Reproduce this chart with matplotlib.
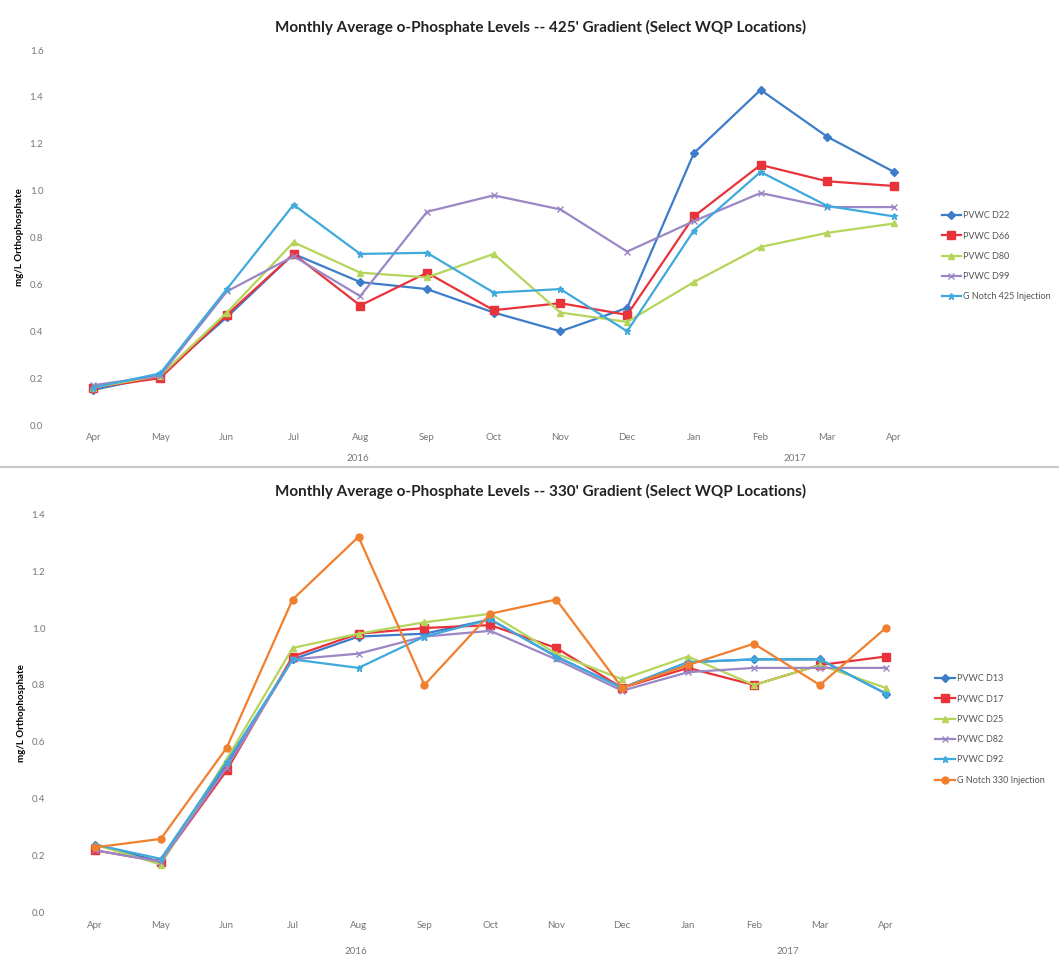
import matplotlib.pyplot as plt
from matplotlib.lines import Line2D

plt.rcParams['font.family'] = ['Lato', 'DejaVu Sans']

months = ["Apr", "May", "Jun", "Jul", "Aug", "Sep", "Oct", "Nov", "Dec", "Jan", "Feb", "Mar", "Apr"]

# 425' gradient
d22 = [0.15, 0.21, 0.46, 0.73, 0.61, 0.58, 0.48, 0.40, 0.50, 1.16, 1.43, 1.23, 1.08]
d66 = [0.16, 0.20, 0.47, 0.73, 0.51, 0.65, 0.49, 0.52, 0.47, 0.89, 1.11, 1.04, 1.02]
d80 = [0.16, 0.21, 0.48, 0.78, 0.65, 0.63, 0.73, 0.48, 0.44, 0.61, 0.76, 0.82, 0.86]
d99 = [0.17, 0.21, 0.57, 0.72, 0.55, 0.91, 0.98, 0.92, 0.74, 0.87, 0.99, 0.93, 0.93]
gn425 = [0.16, 0.22, 0.58, 0.94, 0.73, 0.735, 0.565, 0.58, 0.40, 0.83, 1.08, 0.935, 0.89]

# 330' gradient
d13 = [0.24, 0.18, 0.52, 0.89, 0.97, 0.98, 1.03, 0.90, 0.79, 0.88, 0.89, 0.89, 0.77]
d17 = [0.22, 0.18, 0.50, 0.90, 0.98, 1.00, 1.01, 0.93, 0.79, 0.86, 0.80, 0.87, 0.90]
d25 = [0.24, 0.17, 0.54, 0.93, 0.98, 1.02, 1.05, 0.91, 0.82, 0.90, 0.80, 0.87, 0.79]
d82 = [0.22, 0.18, 0.51, 0.89, 0.91, 0.97, 0.99, 0.89, 0.78, 0.845, 0.86, 0.86, 0.86]
d92 = [0.24, 0.19, 0.53, 0.89, 0.86, 0.97, 1.03, 0.90, 0.79, 0.88, 0.89, 0.89, 0.77]
gn330 = [0.23, 0.26, 0.58, 1.10, 1.32, 0.80, 1.05, 1.10, 0.79, 0.87, 0.945, 0.80, 1.00]

blue = '#3d7cc9'
red = '#e8333b'
green = '#b5d55a'
purple = '#9b86c6'
aqua = '#3fa9dc'
orange = '#f07f2e'
gray = '#777777'

fig = plt.figure(figsize=(10.59, 9.59), dpi=100)
x = range(len(months))


def style(ax, ymax, title, ytitle_y, year_y):
    ax.set_xlim(-0.5, len(months) - 0.5)
    ax.set_ylim(0, ymax)
    ax.set_xticks(list(x))
    ax.set_xticklabels(months, fontsize=7, color=gray)
    ticks = [i * 0.2 for i in range(int(round(ymax / 0.2)) + 1)]
    ax.set_yticks(ticks)
    ax.set_yticklabels(["%.1f" % t for t in ticks], fontsize=7, color=gray)
    for s in ax.spines.values():
        s.set_visible(False)
    ax.tick_params(length=0, pad=6)
    ax.tick_params(axis='y', pad=12)
    ax.set_ylabel("mg/L Orthophosphate", fontsize=7, fontweight='bold', labelpad=4)
    fig.text(0.51, ytitle_y, title, ha='center', va='center', fontsize=11, fontweight='bold', color='#222222')
    ax.text(0.343, year_y, "2016", transform=ax.transAxes, fontsize=7, color=gray, ha='center')
    ax.text(0.847, year_y, "2017", transform=ax.transAxes, fontsize=7, color=gray, ha='center')


ax1 = fig.add_axes([0.0567, 0.5568, 0.819, 0.391])
ax1.plot(x, d22, color=blue, marker='D', markersize=4, lw=1.6, label="PVWC D22")
ax1.plot(x, d66, color=red, marker='s', markersize=6, lw=1.6, label="PVWC D66")
ax1.plot(x, d80, color=green, marker='^', markersize=5, lw=1.6, label="PVWC D80")
ax1.plot(x, d99, color=purple, marker='x', markersize=5, lw=1.6, label="PVWC D99")
ax1.plot(x, gn425, color=aqua, marker='*', markersize=5, lw=1.6, label="G Notch 425 Injection")
style(ax1, 1.6, "Monthly Average o-Phosphate Levels -- 425' Gradient (Select WQP Locations)", 0.971, -0.096)
ax1.legend(loc='center left', bbox_to_anchor=(1.007, 0.45), frameon=False, fontsize=6.5,
           labelcolor='#555555', handlelength=2.2, labelspacing=1.25, handletextpad=0.2)

ax2 = fig.add_axes([0.0585, 0.048, 0.809, 0.416])
ax2.plot(x, d13, color=blue, marker='D', markersize=4, lw=1.6, label="PVWC D13")
ax2.plot(x, d17, color=red, marker='s', markersize=6, lw=1.6, label="PVWC D17")
ax2.plot(x, d25, color=green, marker='^', markersize=5, lw=1.6, label="PVWC D25")
ax2.plot(x, d82, color=purple, marker='x', markersize=5, lw=1.6, label="PVWC D82")
ax2.plot(x, d92, color=aqua, marker='*', markersize=5, lw=1.6, label="PVWC D92")
ax2.plot(x, gn330, color=orange, marker='o', markersize=5, lw=1.6, label="G Notch 330 Injection")
style(ax2, 1.4, "Monthly Average o-Phosphate Levels -- 330' Gradient (Select WQP Locations)", 0.488, -0.104)
ax2.legend(loc='center left', bbox_to_anchor=(1.01, 0.46), frameon=False, fontsize=6.5,
           labelcolor='#555555', handlelength=2.2, labelspacing=1.25, handletextpad=0.2)

fig.add_artist(Line2D([0, 1], [1 - 467 / 959] * 2, color='#c8c8c8', lw=1.5))

fig.savefig("out.png", dpi=100)
